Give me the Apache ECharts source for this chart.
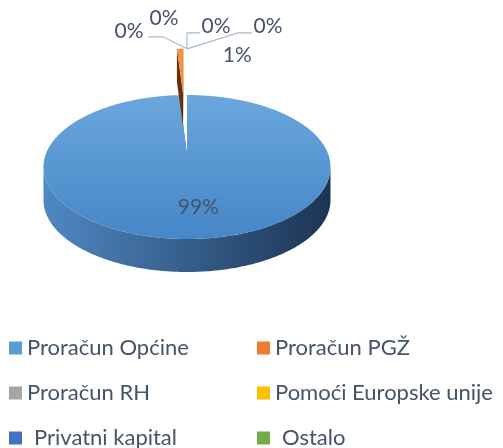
<!DOCTYPE html>
<html><head><meta charset="utf-8">
<script src="https://cdn.jsdelivr.net/npm/echarts@6/dist/echarts.min.js"></script>
<style>html,body{margin:0;padding:0;background:#fff}#c{width:503px;height:448px}</style>
</head><body><div id="c"></div>
<script>
// ---- data ----
const categories = ['Proračun Općine', 'Proračun PGŽ', 'Proračun RH', 'Pomoći Europske unije', 'Privatni kapital', 'Ostalo'];
const values = [99, 1, 0, 0, 0, 0];
const legendColumn1 = ['Proračun Općine', 'Proračun RH', 'Privatni kapital'];
const legendColumn2 = ['Proračun PGŽ', 'Pomoći Europske unije', 'Ostalo'];

// ---- styles / layout ----
const colors = ['#5b9bd5', '#ed7d31', '#a5a5a5', '#ffc000', '#4472c4', '#70ad47'];
const topShade = [['#6ba7dd', '#4686c7'], ['#f29246', '#e3712a'], ['#b5b5b5', '#999999'], ['#ffc820', '#f0b400'], ['#5582d0', '#3c66b5'], ['#7cb855', '#64a03e']];
const sideShade = [['#4f88c3', '#1c3452'], ['#a9561c', '#6e3208'], ['#888', '#555'], ['#c99500', '#8a6600'], ['#35599a', '#1f3560'], ['#568a36', '#35561f']];
const wallShade = [['#3f74ab', '#2b547f'], ['#6a3006', '#a8561c'], ['#777', '#999'], ['#a07800', '#c99500'], ['#2f4f8a', '#3c66b5'], ['#4c7a2f', '#64a03e']];
const pie = { cx: 187, cy: 155, s: 141.5, t: 70, k: 1 / 6, h: 33 };
const explode = [0, 1.03, 1.03, 1.03, 1.03, 1.03];
const labelLayout = [
  { inside: 0.66, dx: 8, dy: 0 },
  { dx: 57, dy: 6 },
  { dx: -58, dy: -18, line: [[-24, -12], [-39, -12]] },
  { dx: -23, dy: -31 },
  { dx: 29, dy: -23, line: [[0, -16], [13, -16]] },
  { dx: 81, dy: -23, line: [[51, -16], [65, -16]] }
];
const textColor = '#44546a';
const lineColor = '#a9bcd0';
const fontFamily = 'Lato, "Open Sans", sans-serif';

const total = values.reduce((a, b) => a + b, 0);
const cum = [0];
values.forEach(v => cum.push(cum[cum.length - 1] + v));

function project(u, v, dz) {
  const w = 1 + pie.k * v;
  return [pie.cx + pie.s * u / w, pie.cy - pie.t * v / w + dz];
}

function buildSlice(i) {
  const a0 = cum[i] / total * Math.PI * 2;
  const a1 = cum[i + 1] / total * Math.PI * 2;
  const m = (a0 + a1) / 2;
  const d = explode[i];
  const ou = d * Math.sin(m), ov = d * Math.cos(m);
  const pt = (th, r, dz) => project(ou + r * Math.sin(th), ov + r * Math.cos(th), dz);
  const children = [];
  const topY = pie.cy - pie.t / (1 + pie.k);
  const botY = pie.cy + pie.t / (1 - pie.k);
  const sideGrad = { type: 'linear', x: pie.cx - pie.s * 1.02, y: 0, x2: pie.cx + pie.s * 1.02, y2: 0, global: true,
    colorStops: [{ offset: 0, color: sideShade[i][0] }, { offset: 1, color: sideShade[i][1] }] };
  if (a1 > a0) {
    const apex = pt(0, 0, 0);
    const apexB = pt(0, 0, pie.h);
    // radial walls
    [a0, a1].forEach((th, j) => {
      children.push({ type: 'polygon', shape: { points: [apex, pt(th, 1, 0), pt(th, 1, pie.h), apexB] },
        style: { fill: wallShade[i][j], stroke: null } });
    });
    // front outer wall
    const f1 = Math.acos(-pie.k), f2 = Math.PI * 2 - f1;
    const lo = Math.max(a0, f1), hi = Math.min(a1, f2);
    if (hi > lo) {
      const n = Math.max(2, Math.ceil((hi - lo) / (Math.PI / 360)));
      const topArc = [], botArc = [];
      for (let j = 0; j <= n; j++) {
        const th = lo + (hi - lo) * j / n;
        topArc.push(pt(th, 1, 0));
        botArc.push(pt(th, 1, pie.h));
      }
      children.push({ type: 'polygon', shape: { points: topArc.concat(botArc.reverse()) },
        style: { fill: sideGrad, stroke: null } });
    }
    // top face
    const n = Math.max(2, Math.ceil((a1 - a0) / (Math.PI / 360)));
    const pts = [apex];
    for (let j = 0; j <= n; j++) pts.push(pt(a0 + (a1 - a0) * j / n, 1, 0));
    children.push({ type: 'polygon', shape: { points: pts },
      style: { fill: { type: 'linear', x: 0, y: topY, x2: 0, y2: botY, global: true,
        colorStops: [{ offset: 0, color: topShade[i][0] }, { offset: 1, color: topShade[i][1] }] }, stroke: null } });
  }
  // label
  const L = labelLayout[i];
  const anchor = pt(m, L.inside != null ? L.inside : 1, 0);
  if (L.line) {
    const pl = [anchor].concat(L.line.map(p => [anchor[0] + p[0], anchor[1] + p[1]]));
    children.push({ type: 'polyline', shape: { points: pl }, style: { stroke: lineColor, lineWidth: 1.2, fill: 'none' } });
  }
  children.push({ type: 'text', x: anchor[0] + L.dx, y: anchor[1] + L.dy,
    style: { text: Math.round(values[i] / total * 100) + '%', fill: textColor, fontSize: 21, fontFamily: fontFamily,
      align: 'center', verticalAlign: 'middle' } });
  return children;
}

const series = categories.map((name, i) => ({
  type: 'custom',
  name: name,
  coordinateSystem: 'none',
  data: [values[i]],
  itemStyle: { color: colors[i] },
  silent: true,
  animation: false,
  renderItem: () => ({ type: 'group', children: buildSlice(i) })
}));

const indented = ['Privatni kapital', 'Ostalo'];
function legendCfg(data, left) {
  return {
    data: data, orient: 'vertical', left: left, top: 336, width: 240, height: 200, padding: 0,
    icon: 'rect', itemWidth: 13, itemHeight: 13, itemGap: 21, selectedMode: false,
    formatter: name => indented.indexOf(name) >= 0 ? '{i|' + name + '}' : name,
    textStyle: { fontFamily: fontFamily, fontSize: 22, color: textColor, lineHeight: 24,
      rich: { i: { fontFamily: fontFamily, fontSize: 22, color: textColor, lineHeight: 24, padding: [0, 0, 0, 7] } } }
  };
}

const chart = echarts.init(document.getElementById('c'), null, { renderer: 'canvas' });
chart.setOption({
  animation: false,
  backgroundColor: '#ffffff',
  legend: [legendCfg(legendColumn1, 9), legendCfg(legendColumn2, 257)],
  series: series
});
</script>
</body></html>
